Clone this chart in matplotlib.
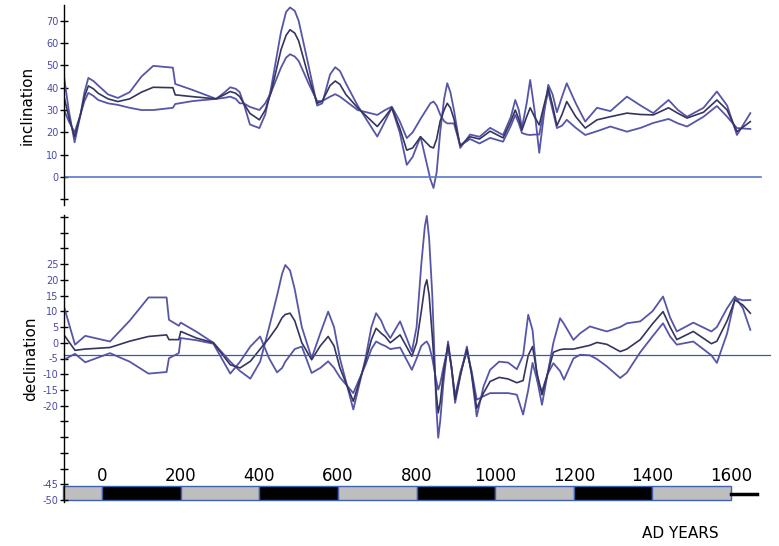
import matplotlib
matplotlib.use("Agg")
import matplotlib.pyplot as plt
from matplotlib import font_manager

# ---- inclination (top panel) ----
inc_years = [-97, -85, -70, -55, -45, -35, -22, -10, 15, 40, 70, 100, 130, 180, 186, 230, 290,
             312, 326, 340, 350, 360, 376, 400, 415, 430, 455, 468, 478, 490, 500, 525, 547,
             560, 580, 593, 605, 620, 650, 700, 720, 737, 757, 775, 790, 810, 835, 843, 851,
             860, 870, 878, 886, 895, 911, 936, 960, 987, 1020, 1040, 1051, 1060, 1068, 1080,
             1089, 1100, 1112, 1124, 1135, 1146, 1157, 1170, 1182, 1205, 1229, 1259, 1293,
             1335, 1370, 1402, 1441, 1465, 1488, 1530, 1564, 1590, 1615, 1649]
inc_a = [45, 30, 15.5, 28, 38, 44.4, 43, 41, 37, 35.4, 38, 45, 49.8, 49, 41.7, 39, 35,
         38, 40.2, 39.5, 38, 33, 23.5, 21.9, 28, 40, 65, 74, 76, 74.5, 70, 50, 32,
         33, 46, 49.2, 47.5, 42, 32, 18.1, 25, 31, 20, 5.4, 9, 18, -1, -5, 2,
         20, 35, 42, 38, 30, 13, 19, 18, 22, 18.8, 27, 34.5, 30, 22, 33,
         43.5, 30, 10.8, 28, 41.3, 37, 29, 36, 42, 33, 24.8, 31, 29.5,
         36, 32, 28.6, 34.5, 30, 27, 31, 38.3, 32, 18.8, 28.6]
inc_b = [36, 27, 18, 28, 36, 40.8, 39.5, 37.5, 35, 33.8, 35, 38, 40.2, 40, 36.8, 36, 35,
         37, 38.3, 37.5, 36, 33, 28.5, 25.6, 30, 38, 57, 63.5, 66, 64.5, 61, 45, 33,
         34, 41, 43, 41.5, 37, 31, 22.6, 27, 31, 22, 12, 13, 18, 13.5, 13, 17,
         25, 30, 33, 31, 26, 14, 18, 17, 20.5, 17.5, 25, 30, 26, 21, 27,
         31, 27, 23.3, 32, 39.8, 32, 23, 28, 33.8, 27, 21.9, 25.6, 27,
         28.6, 28, 27.8, 31, 28.5, 26.4, 29, 34.5, 30, 20.3, 24.8]
inc_c = [30, 25, 20, 28, 34, 37.7, 36.3, 34.5, 33, 32.3, 31, 30, 30, 31, 32.7, 34, 35,
         35.5, 36, 35, 33, 33, 31.4, 30, 33, 38, 49, 53.5, 55, 54, 52, 42, 34,
         34, 36, 37.1, 36, 34, 30, 27.8, 30, 31.5, 25, 17.4, 20, 26, 33, 33.8, 32,
         28, 25, 24, 24, 24, 14, 17, 15, 17.5, 15.8, 23, 27.8, 24, 19.7, 19,
         18.8, 19, 19, 30, 38.3, 30, 21.9, 23, 25.6, 22, 18.8, 20.5, 22.6,
         20.3, 22, 24.2, 26, 24, 22.6, 27, 31.8, 27, 21.9, 21.5]

# ---- declination (bottom panel) ----
dec_years = [-97, -69, -43, 20, 70, 118, 164, 170, 195, 200, 240, 283, 326, 351, 377,
             402, 425, 445, 458, 466, 478, 490, 508, 533, 555, 575, 590, 605, 639, 670,
             685, 697, 710, 720, 733, 758, 788, 800, 812, 821, 826, 832, 840, 850, 855,
             860, 868, 880, 889, 898, 912, 928, 940, 953, 970, 987, 1010, 1033, 1055, 1071,
             1084, 1095, 1107, 1119, 1133, 1148, 1165, 1175, 1199, 1216, 1241, 1259, 1284,
             1318, 1335, 1369, 1400, 1427, 1445, 1462, 1504, 1550, 1564, 1590, 1610, 1630,
             1649]
dec_a = [11.5, -0.6, 2.2, 0.4, 7, 14.4, 14.4, 7.3, 5.4, 6.4, 3.5, 0, -6, -9, -11.4,
         -6, 5, 15, 22, 24.7, 23, 17, 5, -4.9, 3, 9.9, 5, -5, -21.2, -5,
         5, 9.4, 7, 4, 1.5, 6.8, -2.8, 5, 25, 37, 40.3, 33, 15, -20, -30.2,
         -25, -13, 0.4, -8, -19.1, -10, -1.2, -10, -23.4, -14, -8.6, -6, -6.3, -8.4, -4,
         8.9, 4, -12, -19.7, -10, 0, 7.8, 6, 0.9, 3, 5.2, 4.5, 3.6,
         5, 6.2, 6.8, 10, 14.7, 8, 3.6, 6.4, 3.6, 5, 11, 14.7, 11,
         4.1]
dec_b = [2.5, -2.4, -2, -1.5, 0.5, 2, 2.5, 1, 1, 3.6, 1.5, 0, -7, -8, -5.9,
         -2, 1.5, 5, 8, 9, 9.4, 7, 0, -5.4, -1, 2, -1, -8, -18.6, -6,
         1, 4.6, 3, 2, 0, 2.5, -4.3, 0, 10, 18, 20, 15, 2, -16, -22.3,
         -19, -10, -0.5, -8, -18, -10, -2, -10, -20.8, -16, -12.3, -11, -11.5, -12.7, -12,
         -4, -1.2, -10, -16.5, -10, -3, -2.2, -2, -2, -1.5, -0.8, 0.1, -0.5,
         -2.8, -2, 1, 6, 9.9, 5, 1, 3.6, -0.3, 0.5, 7, 13.6, 12,
         9.4]
dec_c = [-5.4, -3.5, -6.2, -3.3, -6, -9.8, -9.3, -4.9, -3.3, 1.5, 0.8, -0.3, -9.8, -6, -1.2,
         2, -5, -9.4, -8, -6, -4, -2, -1.2, -9.6, -8, -5.9, -8, -11, -16, -7,
         -2, 0.4, -0.5, -1, -2, -1.5, -8.6, -5, -1, 0, 0.4, -1, -5, -12, -14.9,
         -13, -8, -1.2, -8, -17, -9, -2.8, -9, -18.1, -17, -16, -16, -16, -16.5, -22.8,
         -15, -6.4, -12, -15.4, -10, -6.5, -9, -11.7, -5, -3.8, -4, -5.2, -7.5,
         -11.2, -9.5, -3, 2, 6.2, 2, -0.6, 0.4, -4, -6.4, 3, 14.2, 13.5,
         13.6]

# ---- time scale bar ----
bar_starts = [-100, 0, 200, 400, 600, 800, 1000, 1200, 1400]
bar_widths = [100, 200, 200, 200, 200, 200, 200, 200, 200]
bar_colors = ['#bebebe', 'black', '#bebebe', 'black', '#bebebe', 'black', '#bebebe', 'black', '#bebebe']
year_labels = [0, 200, 400, 600, 800, 1000, 1200, 1400, 1600]

edge_col = '#5656a8'
mean_col = '#34345e'
lab_col = '#4a4aa6'

installed = {f.name for f in font_manager.fontManager.ttflist}
narrow = 'Liberation Sans Narrow' if 'Liberation Sans Narrow' in installed else 'DejaVu Sans'

fig = plt.figure(figsize=(7.79, 5.46), dpi=100)
ax1 = fig.add_axes([64/779, 1-205/546, 698.5/779, 200/546])
ax2 = fig.add_axes([64/779, 1-502/546, 698.5/779, 287/546])

for ax in (ax1, ax2):
    for s in ('top', 'right', 'bottom'):
        ax.spines[s].set_visible(False)
    ax.spines['left'].set_linewidth(1.0)
    ax.set_xticks([])
    ax.tick_params(axis='y', direction='inout', length=6, width=1, labelsize=7,
                   labelcolor=lab_col, pad=1)
    ax.set_xlim(-97, 1680)

# top panel
ax1.plot(inc_years, inc_a, color=edge_col, lw=1.3)
ax1.plot(inc_years, inc_c, color=edge_col, lw=1.3)
ax1.plot(inc_years, inc_b, color=mean_col, lw=1.2)
ax1.plot([-97, 1675], [0, 0], color='#5a78c8', lw=1.2)
ax1.set_ylim(-12.6, 77.1)
ax1.set_yticks(range(-10, 71, 10))
ax1.set_yticklabels([''] + [str(v) for v in range(0, 71, 10)])
ax1.set_ylabel('inclination', fontsize=11, labelpad=8)

# bottom panel
ax2.plot(dec_years, dec_a, color=edge_col, lw=1.3)
ax2.plot(dec_years, dec_c, color=edge_col, lw=1.3)
ax2.plot(dec_years, dec_b, color=mean_col, lw=1.2)
ax2.plot([-97, 1700], [-3.8, -3.8], color='#3a58b0', lw=0.9, clip_on=False)
ax2.set_ylim(-50.6, 40.6)
ticks = list(range(-50, 41, 5))
ax2.set_yticks(ticks)
ax2.set_yticklabels([str(t) if (-20 <= t <= 25 or t <= -45) else '' for t in ticks])
ax2.set_ylabel('declination', fontsize=11, labelpad=3)

ax2.bar(bar_starts, 4.5, width=bar_widths, bottom=-50, align='edge', color=bar_colors,
        edgecolor='#4060b0', linewidth=1.0, clip_on=False)
ax2.plot([1600, 1665], [-48, -48], color='black', lw=2.5, clip_on=False)
for y in year_labels:
    ax2.text(y, -42.3, str(y), ha='center', va='center', fontsize=12, color='black',
             family=narrow)

fig.text(680/779, 1-533/546, 'AD YEARS', ha='center', va='center', fontsize=11,
         family=narrow)

fig.savefig('out.png', dpi=100)
